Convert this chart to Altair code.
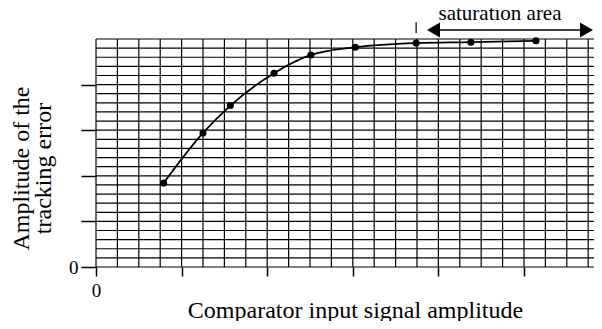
import altair as alt
import pandas as pd
import numpy as np

# ---- data ----
input_amp = [0.79, 1.25, 1.57, 2.08, 2.51, 3.03, 3.74, 4.38, 5.14]
error_amp = [1.84, 2.94, 3.54, 4.25, 4.65, 4.82, 4.91, 4.93, 4.96]

x_ticks = [0, 1, 2, 3, 4, 5]
y_ticks = [0, 1, 2, 3, 4]
x_grid = [round(v, 2) for v in np.arange(0, 5.76, 0.25)]
y_grid = [round(v, 2) for v in np.arange(0, 5.01, 0.2)]

x_title = "Comparator input signal amplitude"
y_title = ["Amplitude of the", "tracking error"]
annot_text = "saturation area"

# annotation positions in data units
marker_x = [3.74]
marker_y = [5.13]
marker_y2 = [5.37]
arrow_x = [3.943]
arrow_x2 = [5.73]
arrow_y = [5.2]
label_x = [4.72]
label_y = [5.42]

FONT = "Liberation Serif"
xs = alt.Scale(domain=[0, 5.818], nice=False, zero=False)
ys = alt.Scale(domain=[0, 5], nice=False, zero=False)

x_axis = alt.Axis(
    values=x_ticks, grid=False, domain=False, tickSize=9, tickWidth=1.5,
    tickColor="black", labelExpr="datum.value == 0 ? '0' : ''",
    labelFont=FONT, labelFontSize=19, labelColor="black", labelPadding=5,
    labelBaseline="top", labelFlush=False,
    title=x_title, titleFont=FONT, titleFontSize=24, titleFontWeight="normal",
    titleColor="black", titleX=259, titleY=50, titleAlign="center",
    titleBaseline="alphabetic")
y_axis = alt.Axis(
    values=y_ticks, grid=False, domain=False, tickSize=15, tickWidth=1.5,
    tickColor="black", labelExpr="datum.value == 0 ? '0' : ''",
    labelFont=FONT, labelFontSize=19, labelColor="black", labelPadding=3,
    labelFlush=False,
    title=y_title, titleFont=FONT, titleFontSize=24, titleFontWeight="normal",
    titleColor="black", titleX=-68, titleY=129, titleAngle=-90,
    titleAlign="center", titleBaseline="alphabetic", titleLineHeight=22)


def X(f):
    return alt.X(f, type="quantitative", scale=xs, axis=x_axis)


def Y(f):
    return alt.Y(f, type="quantitative", scale=ys, axis=y_axis)


pts = pd.DataFrame({"x": input_amp, "y": error_amp})

vgrid = alt.Chart(pd.DataFrame({"x": x_grid})).mark_rule(
    color="black", strokeWidth=1.2
).encode(x=X("x"))

hgrid = alt.Chart(pd.DataFrame({"y": y_grid})).mark_rule(
    color="black", strokeWidth=1.2
).encode(y=Y("y"))

line = alt.Chart(pts).mark_line(
    interpolate="monotone", color="black", strokeWidth=1.8
).encode(x=X("x"), y=Y("y"))

dots = alt.Chart(pts).mark_circle(size=50, color="black", opacity=1).encode(
    x=X("x"), y=Y("y")
)

marker = alt.Chart(pd.DataFrame({"x": marker_x, "y": marker_y, "y2": marker_y2})).mark_rule(
    color="black", strokeWidth=1.2
).encode(x=X("x"), y=Y("y"), y2="y2:Q")

arrow = alt.Chart(pd.DataFrame({"x": arrow_x, "x2": arrow_x2, "y": arrow_y})).mark_rule(
    color="black", strokeWidth=1.5
).encode(x=X("x"), x2="x2:Q", y=Y("y"))

head_l = alt.Chart(pd.DataFrame({"x": arrow_x, "y": arrow_y})).mark_point(
    shape="triangle-left", filled=True, color="black", size=225, opacity=1
).encode(x=X("x"), y=Y("y"))

head_r = alt.Chart(pd.DataFrame({"x": arrow_x2, "y": arrow_y})).mark_point(
    shape="triangle-right", filled=True, color="black", size=225, opacity=1
).encode(x=X("x"), y=Y("y"))

label = alt.Chart(pd.DataFrame({"x": label_x, "y": label_y, "t": [annot_text]})).mark_text(
    font=FONT, fontSize=21, color="black", align="center", baseline="alphabetic"
).encode(x=X("x"), y=Y("y"), text="t:N")

chart = alt.layer(vgrid, hgrid, line, dots, marker, arrow, head_l, head_r, label).properties(
    width=498, height=228,
    autosize=alt.AutoSizeParams(type="none"),
    padding={"left": 88, "top": 31, "right": 0, "bottom": 54},
    background="white",
).configure(font=FONT).configure_text(font=FONT).configure_view(stroke=None)

chart.save("out.html", embed_options={"renderer": "svg", "actions": False})
